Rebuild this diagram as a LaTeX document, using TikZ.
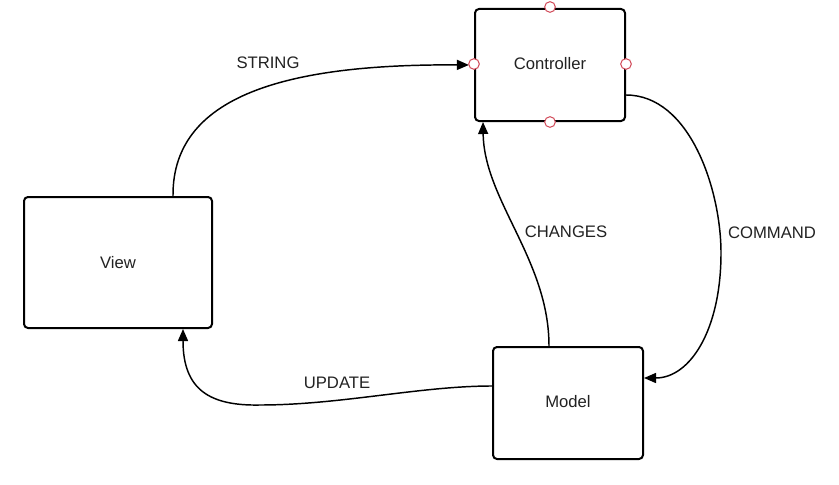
\documentclass[tikz,border=0pt]{standalone}
\usepackage{fontspec}
\setmainfont{Liberation Sans}
\usetikzlibrary{arrows.meta}
\definecolor{txt}{HTML}{222222}
\definecolor{portred}{RGB}{212,84,98}
\tikzset{
  box/.style={draw=black, line width=1.5pt, rounded corners=3pt, fill=white,
    font=\fontsize{12.5}{15}\selectfont, text=txt, inner sep=0pt},
  lbl/.style={font=\fontsize{12.5}{15}\selectfont, text=txt, inner sep=1pt},
  conn/.style={draw=black, line width=1.1pt, -{Triangle[length=9pt,width=7.5pt]}},
  port/.style={circle, draw=portred, fill=white, line width=0.8pt, minimum size=8pt, inner sep=0pt}
}
\begin{document}
\begin{tikzpicture}[x=0.75pt,y=-0.75pt]
\useasboundingbox (0,0) rectangle (839,485);
\fill[white] (0,0) rectangle (839,485);

\node[box, minimum width=112.5pt, minimum height=84pt] (Controller) at (550,65) {\raisebox{2.25pt}{Controller}};
\node[box, minimum width=141pt, minimum height=98.25pt] (View) at (118,262.5) {View};
\node[box, minimum width=112.5pt, minimum height=84pt] (Model) at (568,403) {\raisebox{2.25pt}{Model}};

% STRING
\draw[conn, shorten >=3.8pt] ([xshift=-30pt]View.north east) .. controls (172,90) and (300,64) .. (Controller.west);
% COMMAND
\draw[conn] ([yshift=-22.5pt]Controller.east) .. controls (690,95) and (721,190) .. (721,253)
  .. controls (721,330) and (690,378) .. ([yshift=18.75pt]Model.east);
% CHANGES
\draw[conn] ([xshift=-14.25pt]Model.north) .. controls (549,260) and (484,200) .. ([xshift=6.75pt]Controller.south west);
% UPDATE
\draw[conn] ([yshift=12.75pt]Model.west) .. controls (420,386) and (340,405) .. (260,405)
  .. controls (210,406) and (183,390) .. ([xshift=48.75pt]View.south);

\node[lbl] (lstring) at (268,63) {STRING};
\node[lbl] (lcommand) at (772,233) {COMMAND};
\node[lbl] (lchanges) at (566,232) {CHANGES};
\node[lbl] (lupdate) at (337,383) {UPDATE};

\node[port] (pN) at ([yshift=0.75pt]Controller.north) {};
\node[port] (pS) at (Controller.south) {};
\node[port] (pW) at ([yshift=0.75pt]Controller.west) {};
\node[port] (pE) at ([yshift=0.75pt]Controller.east) {};
\end{tikzpicture}
\end{document}
